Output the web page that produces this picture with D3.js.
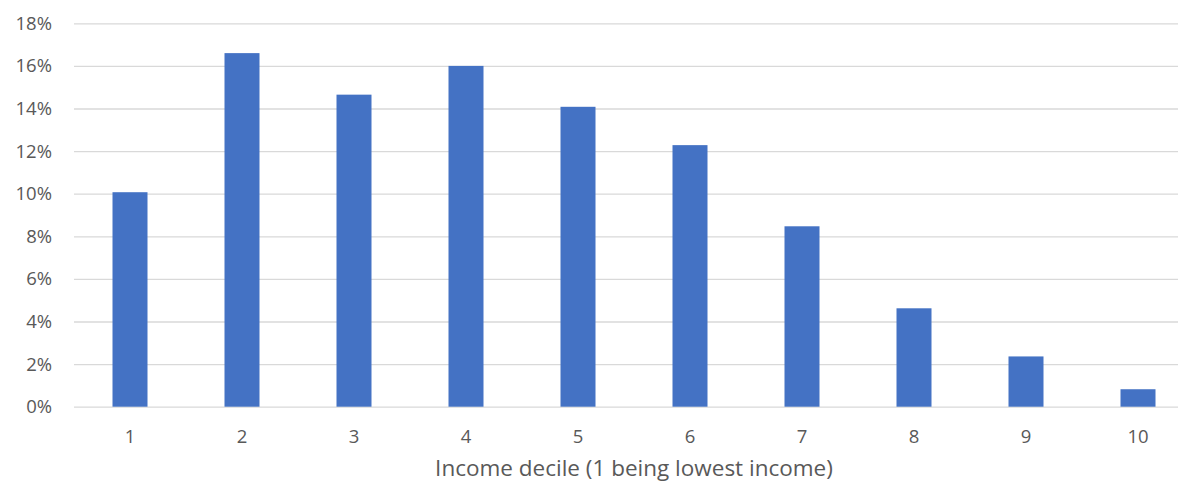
<!DOCTYPE html>
<html>
<head>
<meta charset="utf-8">
<script src="https://cdn.jsdelivr.net/npm/d3@7"></script>
<style>
  html, body { margin: 0; padding: 0; background: #fff; overflow: hidden; }
  svg { display: block; }
</style>
</head>
<body>
<svg id="chart" width="1178" height="482"></svg>
<script>
const deciles = ["1", "2", "3", "4", "5", "6", "7", "8", "9", "10"];
const shares = [10.07, 16.6, 14.65, 16.0, 14.08, 12.28, 8.47, 4.62, 2.36, 0.82];
const yTicks = [0, 2, 4, 6, 8, 10, 12, 14, 16, 18];
const xTitle = "Income decile (1 being lowest income)";

(function () {
const svg = d3.select("#chart");
const font = "'Open Sans', 'Noto Sans', sans-serif";
const mLeft = 74, mRight = 1194, mTop = 23.3, mBottom = 406.7;

const x = d3.scaleBand().domain(deciles).range([mLeft, mRight]).paddingInner(0.6875).paddingOuter(0.34375);
const y = d3.scaleLinear().domain([0, 18]).range([mBottom, mTop]);

// gridlines
const grid = svg.append("g")
  .attr("transform", `translate(${mLeft},0)`)
  .call(d3.axisLeft(y).tickValues(yTicks).tickSize(-(mRight - mLeft)).tickFormat(""));
grid.select(".domain").remove();
grid.selectAll("line").attr("stroke", "#d9d9d9").attr("stroke-width", 1.3);

// bars
svg.append("g").selectAll("rect")
  .data(shares)
  .join("rect")
  .attr("x", (d, i) => x(deciles[i]))
  .attr("width", x.bandwidth())
  .attr("y", d => y(d))
  .attr("height", d => y(0) - y(d))
  .attr("fill", "#4472c4");

// y labels
const ya = svg.append("g")
  .attr("transform", `translate(${mLeft},0)`)
  .call(d3.axisLeft(y).tickValues(yTicks).tickSize(0).tickPadding(22).tickFormat(d => d + "%"));
ya.select(".domain").remove();
ya.selectAll("text").attr("fill", "#595959").style("font-family", font).style("font-size", "18.5px");

// x labels
const xa = svg.append("g")
  .attr("transform", `translate(0,${mBottom})`)
  .call(d3.axisBottom(x).tickSize(0).tickPadding(23));
xa.select(".domain").remove();
xa.selectAll("text").attr("fill", "#595959").style("font-family", font).style("font-size", "18.5px");

// x title
svg.append("text")
  .attr("x", (mLeft + mRight) / 2)
  .attr("y", 476)
  .attr("text-anchor", "middle")
  .attr("fill", "#595959")
  .style("font-family", font)
  .style("font-size", "22.5px")
  .text(xTitle);
})();
</script>
</body>
</html>
